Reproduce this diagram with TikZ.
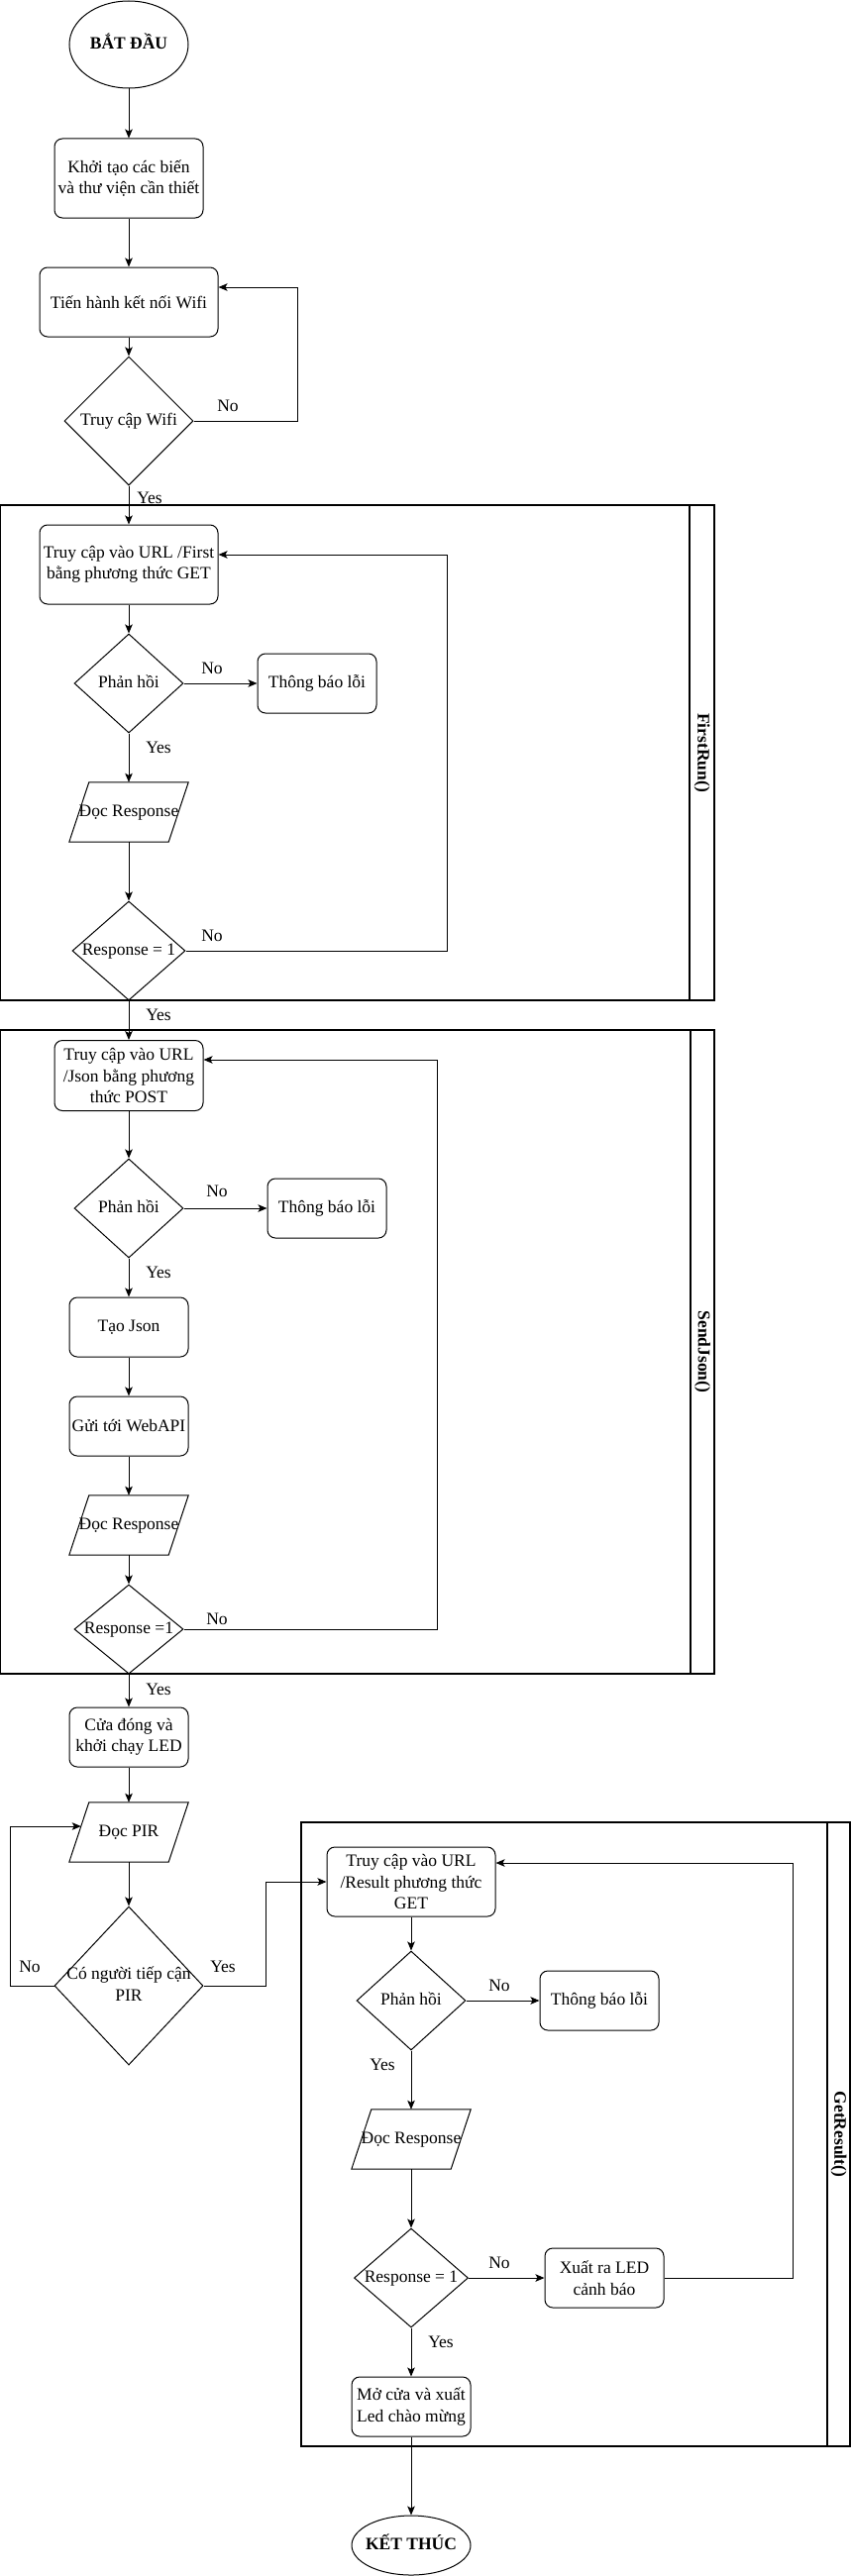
\documentclass[tikz,border=0pt]{standalone}
\usepackage{fontspec}
\setmainfont{Liberation Serif}
\usetikzlibrary{shapes.geometric,arrows.meta,calc}
\newcommand{\zt}[1]{\makebox[0pt]{\begin{tabular}{@{}c@{}}#1\end{tabular}}}
\newcommand{\parashape}[1]{\draw[line width=1pt] (#1.south west) -- ([xshift=20pt]#1.north west) -- (#1.north east) -- ([xshift=-20pt]#1.south east) -- cycle;}
\begin{document}
\begin{tikzpicture}[x=1pt,y=-1pt,
  every node/.style={font=\fontsize{17.5}{21.5}\selectfont, inner sep=1pt},
  box/.style={draw, rounded corners=8pt, align=center, line width=1pt},
  dia/.style={draw, diamond, line width=1pt},
  para/.style={rectangle, minimum width=120pt, minimum height=60pt},
  term/.style={draw, ellipse, line width=1pt, font=\fontsize{17.5}{21.5}\selectfont\bfseries},
  arr/.style={line width=1pt, -{Stealth[length=9pt,width=7.5pt,inset=2pt]}},
  lbl/.style={inner sep=0pt},
  cont/.style={line width=1.2pt},
  ttl/.style={rotate=-90, font=\fontsize{17.5}{21.5}\selectfont\bfseries}
]
\useasboundingbox (0,0) rectangle (859,2601);

% containers
\draw[cont] (0.6,510) rectangle (721,1010);
\draw[cont] (696,510) -- (696,1010);
\node[ttl] (frT) at (708.5,760) {FirstRun()};

\draw[cont] (0.6,1040) rectangle (721,1690);
\draw[cont] (697,1040) -- (697,1690);
\node[ttl] (sjT) at (709,1365) {SendJson()};

\draw[cont] (304,1840) rectangle (858,2470);
\draw[cont] (835,1840) -- (835,2470);
\node[ttl] (grT) at (846.5,2155) {GetResult()};

% top
\node[term, minimum width=120pt, minimum height=88pt] (start) at (130,45) {\zt{BẮT ĐẦU}};
\node[box, minimum width=150pt, minimum height=80pt] (init) at (130,180) {Khởi tạo các biến\\và thư viện cần thiết};
\node[box, minimum width=180pt, minimum height=70pt] (wifi) at (130,305) {Tiến hành kết nối Wifi};
\node[dia, minimum width=130pt, minimum height=130pt] (wd) at (130,425) {\zt{Truy cập Wifi}};

% FirstRun
\node[box, minimum width=180pt, minimum height=80pt] (fr1) at (130,570) {Truy cập vào URL /First\\bằng phương thức GET};
\node[dia, minimum width=110pt, minimum height=100pt] (frd1) at (130,690) {\zt{Phản hồi}};
\node[box, minimum width=120pt, minimum height=60pt] (frerr) at (320,690) {Thông báo lỗi};
\node[para] (frread) at (130,820) {\zt{Đọc Response}};
\parashape{frread}
\node[dia, minimum width=114pt, minimum height=100pt] (frd2) at (130,960) {\zt{Response = 1}};

% SendJson
\node[box, minimum width=150pt, minimum height=71pt] (sj1) at (130,1086) {Truy cập vào URL\\/Json bằng phương\\thức POST};
\node[dia, minimum width=110pt, minimum height=100pt] (sjd1) at (130,1220) {\zt{Phản hồi}};
\node[box, minimum width=120pt, minimum height=60pt] (sjerr) at (330,1220) {Thông báo lỗi};
\node[box, minimum width=120pt, minimum height=60pt] (sjjson) at (130,1340) {Tạo Json};
\node[box, minimum width=120pt, minimum height=60pt] (sjsend) at (130,1440) {Gửi tới WebAPI};
\node[para] (sjread) at (130,1540) {\zt{Đọc Response}};
\parashape{sjread}
\node[dia, minimum width=110pt, minimum height=90pt] (sjd2) at (130,1645) {\zt{Response =1}};

% middle
\node[box, minimum width=120pt, minimum height=60pt] (led) at (130,1754) {Cửa đóng và\\khởi chạy LED};
\node[para] (pir) at (130,1850) {\zt{Đọc PIR}};
\parashape{pir}
\node[dia, minimum width=150pt, minimum height=160pt] (pird) at (130,2005) {\zt{Có người tiếp cận\\PIR}};

% GetResult
\node[box, minimum width=170pt, minimum height=70pt] (gr1) at (415,1900) {Truy cập vào URL\\/Result phương thức\\GET};
\node[dia, minimum width=110pt, minimum height=100pt] (grd1) at (415,2020) {\zt{Phản hồi}};
\node[box, minimum width=120pt, minimum height=60pt] (grerr) at (605,2020) {Thông báo lỗi};
\node[para] (grread) at (415,2160) {\zt{Đọc Response}};
\parashape{grread}
\node[dia, minimum width=115pt, minimum height=100pt] (grd2) at (415,2300) {\zt{Response = 1}};
\node[box, minimum width=120pt, minimum height=60pt] (grled) at (610,2300) {Xuất ra LED\\cảnh báo};
\node[box, minimum width=120pt, minimum height=60pt] (gropen) at (415,2430) {Mở cửa và xuất\\Led chào mừng};
\node[term, minimum width=120pt, minimum height=60pt] (end) at (415,2570) {\zt{KẾT THÚC}};

% connectors top
\draw[arr] (start) -- (init);
\draw[arr] (init) -- (wifi);
\draw[arr] (wifi) -- (wd);
\draw[arr] (wd.east) -- ++(105,0) |- ([yshift=15pt]wifi.east);
\draw[arr] (wd.south) -- (fr1.north);
\node[lbl] (l1) at (230,410) {No};
\node[lbl] (l2) at (151,503) {Yes};

% FirstRun connectors
\draw[arr] (fr1) -- (frd1);
\draw[arr] (frd1.east) -- (frerr.west);
\draw[arr] (frd1.south) -- (frread.north);
\draw[arr] (frread.south) -- (frd2.north);
\draw[arr] (frd2.east) -- ++(264,0) |- ([yshift=10pt]fr1.east);
\draw[arr] (frd2.south) -- (sj1.north);
\node[lbl] (l3) at (214,675) {No};
\node[lbl] (l4) at (160,755) {Yes};
\node[lbl] (l5) at (214,945) {No};
\node[lbl] (l6) at (160,1025) {Yes};

% SendJson connectors
\draw[arr] (sj1) -- (sjd1);
\draw[arr] (sjd1.east) -- (sjerr.west);
\draw[arr] (sjd1.south) -- (sjjson.north);
\draw[arr] (sjjson) -- (sjsend);
\draw[arr] (sjsend.south) -- (sjread.north);
\draw[arr] (sjread.south) -- (sjd2.north);
\draw[arr] (sjd2.east) -- ++(256,0) |- ([yshift=16pt]sj1.east);
\draw[arr] (sjd2.south) -- (led.north);
\node[lbl] (l7) at (219,1203) {No};
\node[lbl] (l8) at (160,1285) {Yes};
\node[lbl] (l9) at (219,1635) {No};
\node[lbl] (l10) at (160,1706) {Yes};

% middle connectors
\draw[arr] (led.south) -- (pir.north);
\draw[arr] (pir.south) -- (pird.north);
\draw[arr] (pird.west) -- ++(-44,0) |- ([xshift=12pt,yshift=6pt]pir.west);
\draw[arr] (pird.east) -- ++(63,0) |- (gr1.west);
\node[lbl] (l11) at (30,1986) {No};
\node[lbl] (l12) at (225,1986) {Yes};

% GetResult connectors
\draw[arr] (gr1) -- (grd1);
\draw[arr] (grd1.east) -- (grerr.west);
\draw[arr] (grd1.south) -- (grread.north);
\draw[arr] (grread.south) -- (grd2.north);
\draw[arr] (grd2.east) -- (grled.west);
\draw[arr] (grled.east) -- ++(130,0) |- ([yshift=19pt]gr1.east);
\draw[arr] (grd2.south) -- (gropen.north);
\draw[arr] (gropen.south) -- (end.north);
\node[lbl] (l13) at (504,2005) {No};
\node[lbl] (l14) at (386,2085) {Yes};
\node[lbl] (l15) at (504,2285) {No};
\node[lbl] (l16) at (445,2365) {Yes};
\end{tikzpicture}
\end{document}
